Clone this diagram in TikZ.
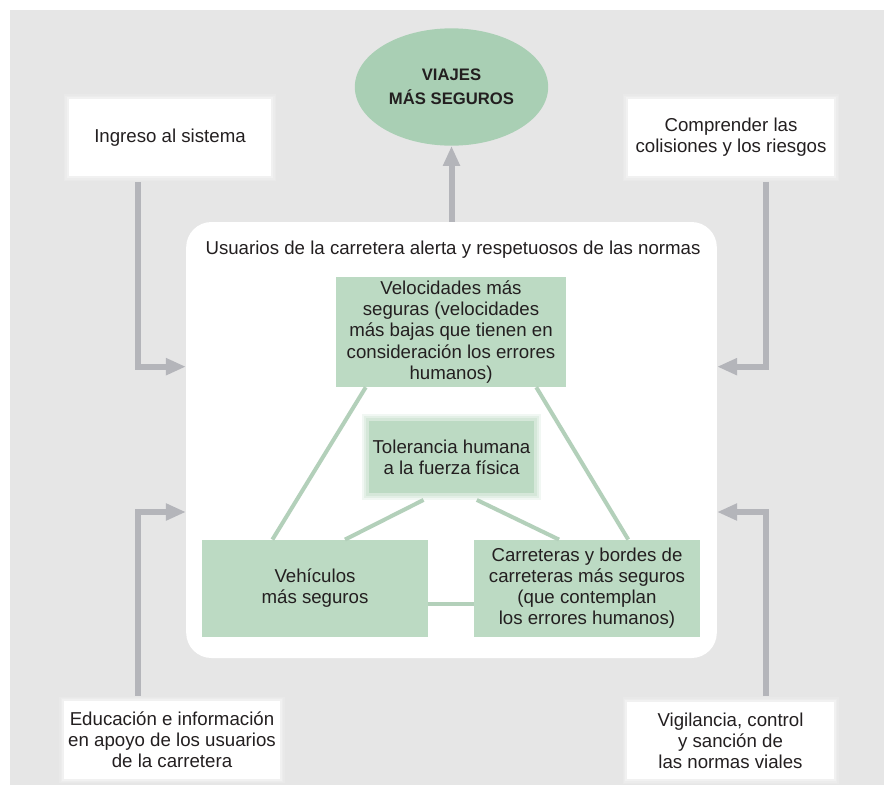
\documentclass[tikz,border=0pt]{standalone}
\usepackage{fontspec}
\setmainfont{Liberation Sans}
\usetikzlibrary{shapes.geometric,arrows.meta,positioning,calc}
\definecolor{bggray}{HTML}{E6E6E6}
\definecolor{boxgreen}{HTML}{BCDAC3}
\definecolor{ovalgreen}{HTML}{A9CFB4}
\definecolor{arrowgray}{HTML}{B4B5BA}
\definecolor{txt}{HTML}{231F20}
\newcommand{\diagfont}{\fontsize{14}{15.8}\selectfont}
\tikzstyle{outer} = [rectangle, fill=white, align=center, inner sep=0pt,
    minimum width=152pt, minimum height=58pt,
    preaction={draw=white, line width=7pt, opacity=0.12},
    preaction={draw=white, line width=5pt, opacity=0.18},
    preaction={draw=white, line width=3pt, opacity=0.3}]
\tikzstyle{panel} = [rectangle, fill=white, rounded corners=19pt,
    minimum width=398pt, minimum height=327pt]
\tikzstyle{inner} = [rectangle, fill=boxgreen, align=center, inner sep=0pt,
    minimum width=169.5pt, minimum height=73pt]
\tikzstyle{goal} = [ellipse, fill=ovalgreen, align=center, inner sep=0pt,
    minimum width=145pt, minimum height=88pt,
    font=\fontsize{12.5}{18}\selectfont\bfseries]
\tikzstyle{link} = [draw, boxgreen!92!black!60!boxgreen, line width=3pt]
\tikzstyle{flow} = [draw, arrowgray, line width=4.5pt,
    -{Triangle[length=15pt,width=12pt]}]

\begin{document}
\begin{tikzpicture}[x=0.75pt, y=-0.75pt, font=\diagfont, text=txt]
    \useasboundingbox (0,0) rectangle (884,797);
    \fill [bggray] (10,10) rectangle (884,785);
    % Place nodes
    \node [panel] (road) at (451.5,440) {};
    \node (title) at (453,250) {Usuarios de la carretera alerta y respetuosos de las normas};
    \node [goal] (viajes) at (451.5,87) {VIAJES\\MÁS SEGUROS};
    \node [outer] (ingreso) at (170,137.5) {Ingreso al sistema};
    \node [outer, minimum width=155pt] (colisiones) at (731,137.5) {Comprender las\\colisiones y los riesgos};
    \node [outer, minimum width=162pt] (educacion) at (172,740) {Educación e información\\en apoyo de los usuarios\\de la carretera};
    \node [outer, minimum width=155pt] (vigilancia) at (730.5,740.5) {Vigilancia, control\\y sanción de\\las normas viales};
    \node [inner, minimum width=172.5pt, minimum height=82.5pt] (velocidad) at (451,332)
        {Velocidades más\\seguras (velocidades\\más bajas que tienen en\\consideración los errores\\humanos)};
    \node [inner, minimum width=124pt, minimum height=54pt,
        preaction={draw=boxgreen, line width=10pt, opacity=0.2},
        preaction={draw=boxgreen, line width=7pt, opacity=0.25},
        preaction={draw=boxgreen, line width=4pt, opacity=0.35}] (tolerancia) at (451.5,457)
        {Tolerancia humana\\a la fuerza física};
    \node [inner] (vehiculos) at (315,588.5) {Vehículos\\más seguros};
    \node [inner, right of=vehiculos, node distance=204pt] (carreteras)
        {Carreteras y bordes de\\carreteras más seguros\\(que contemplan\\los errores humanos)};
    % Draw edges
    \path [link] ([xshift=22.5pt] velocidad.south west) -- ([xshift=53pt] vehiculos.north west);
    \path [link] ([xshift=-22.5pt] velocidad.south east) -- ([xshift=-54pt] carreteras.north east);
    \path [link] ([xshift=-21pt, yshift=-5pt] tolerancia.south) -- ([xshift=22.5pt] vehiculos.north);
    \path [link] ([xshift=19pt, yshift=-5pt] tolerancia.south) -- ([xshift=-21pt] carreteras.north);
    \path [link] ([yshift=-11.6pt] vehiculos.east) -- ([yshift=-11.6pt] carreteras.west);
    \path [flow] (road.north -| viajes.south) -- (viajes.south);
    \path [flow] ([xshift=-24pt, yshift=-4pt] ingreso.south) |- ([yshift=55pt] road.west);
    \path [flow] ([xshift=-25.5pt, yshift=4pt] educacion.north) |- ([yshift=-54pt] road.west);
    \path [flow] ([xshift=26pt, yshift=-4pt] colisiones.south) |- ([yshift=55pt] road.east);
    \path [flow] ([xshift=26.6pt, yshift=4pt] vigilancia.north) |- ([yshift=-54pt] road.east);
\end{tikzpicture}
\end{document}
